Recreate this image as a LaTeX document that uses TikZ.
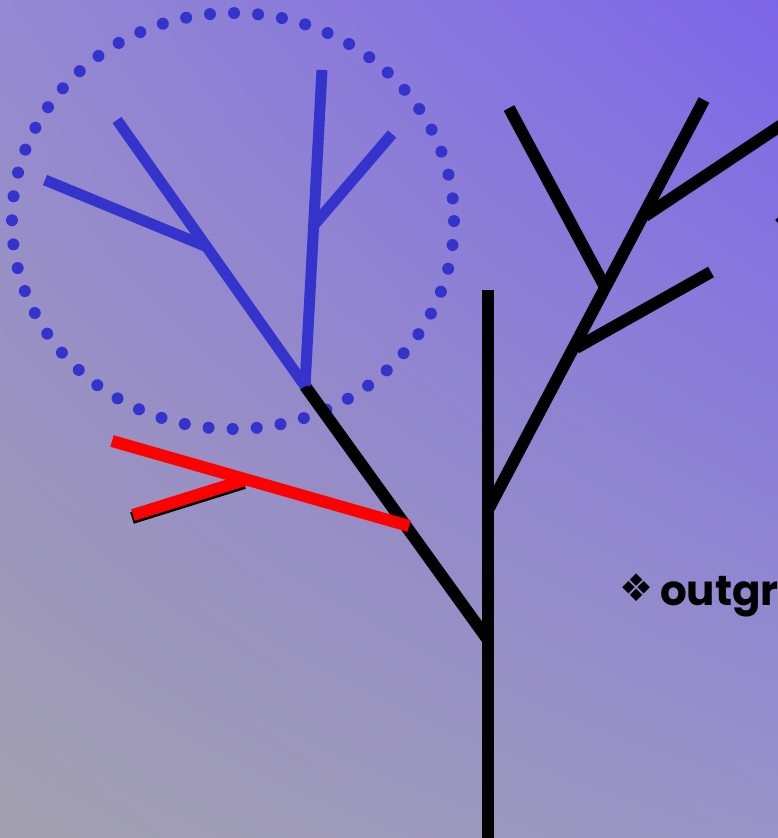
\documentclass[tikz,border=0pt]{standalone}
\usepackage{fontspec}
\usetikzlibrary{shadings}
\newfontfamily\symfont{DejaVu Sans}
\newfontfamily\labfont{Poppins}
\definecolor{bgtl}{RGB}{148,136,210}
\definecolor{bgtr}{RGB}{124,102,232}
\definecolor{bgbl}{RGB}{162,160,174}
\definecolor{bgbr}{RGB}{154,148,200}
\definecolor{twigblue}{RGB}{52,52,204}
\definecolor{twigred}{RGB}{255,0,0}
\begin{document}
\begin{tikzpicture}[x=1pt,y=-1pt,
  branch/.style={line width=12pt, black},
  bluebranch/.style={line width=11pt, twigblue},
  redbranch/.style={line width=12pt, twigred},
  dotring/.style={twigblue, line width=12pt, line cap=round, dash pattern=on 0pt off 24.1pt},
  label/.style={inner sep=0pt, font=\labfont\bfseries\fontsize{42}{46}\selectfont},
  bullet/.style={inner sep=0pt, font=\symfont\fontsize{38}{42}\selectfont}]
\useasboundingbox (0,0) rectangle (778,838);
\clip (0,0) rectangle (778,838);
\shade[upper left=bgtl, upper right=bgtr, lower left=bgbl, lower right=bgbr] (0,0) rectangle (778,838);

% dotted ring
\draw[dotring] (233,221) ellipse [x radius=221, y radius=208];

% coordinates
\coordinate (base) at (488,838);
\coordinate (top) at (488,290);
\coordinate (jL) at (488,640);
\coordinate (bstart) at (305,386);
\coordinate (lend) at (117,120);
\coordinate (bsub) at (205,246);
\coordinate (bsubend) at (45,180);
\coordinate (bup) at (322,70);
\coordinate (bsub2) at (314,225);
\coordinate (bsub2end) at (392,134);
\coordinate (jR) at (489,508);
\coordinate (rend) at (704,100);
\coordinate (lsubstart) at (509,108);
\coordinate (lsubend) at (605,287);
\coordinate (r1) at (576,348);
\coordinate (r1end) at (711,272);
\coordinate (r2) at (645,216);
\coordinate (r2end) at (795,116);
\coordinate (redA) at (112,441);
\coordinate (redB) at (409,526);
\coordinate (redC) at (133,515);
\coordinate (redD) at (245,480);

% black tree
\draw[branch] (base) -- (top);
\draw[branch] (jL) -- (bstart);
\draw[branch] (jR) -- (rend);
\draw[branch] (lsubstart) -- (lsubend);
\draw[branch] (r1) -- (r1end);
\draw[branch] (r2) -- (r2end);

% blue part
\draw[bluebranch] (bstart) -- (lend);
\draw[bluebranch] (bsub) -- (bsubend);
\draw[bluebranch] (bstart) -- (bup);
\draw[bluebranch] (bsub2) -- (bsub2end);

% red part
\draw[line width=12pt, black] ([shift={(-1,3)}]redC) -- ([shift={(-1,3)}]redD);
\draw[redbranch] (redC) -- (redD);
\draw[redbranch] (redA) -- (redB);

% label
\node[bullet] (b1) at (637,588) {❖};
\node[label, anchor=base west] (lab) at (660,605) {outgr};
\node[bullet] (b2) at (790,221) {❖};
\end{tikzpicture}
\end{document}
